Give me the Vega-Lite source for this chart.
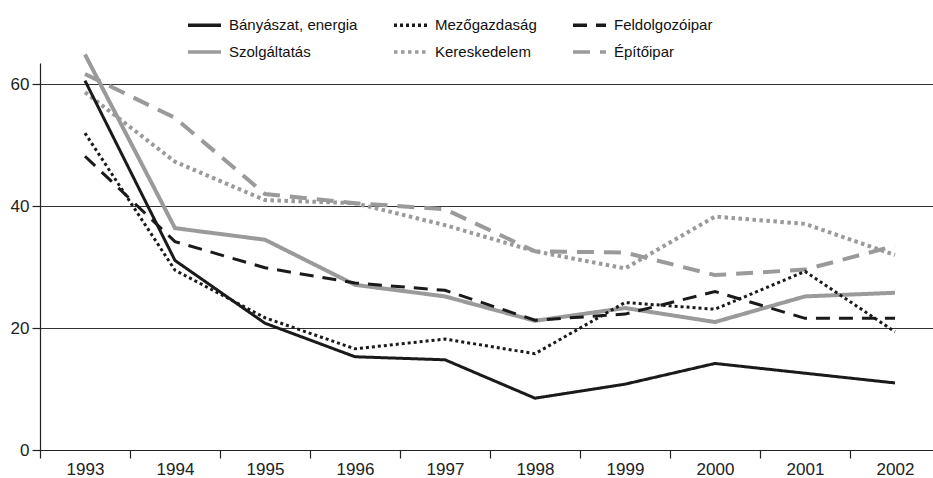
{
  "$schema": "https://vega.github.io/schema/vega-lite/v6.json",
  "width": 900,
  "height": 387,
  "autosize": {"type": "none"},
  "padding": {"left": 40, "top": 63, "right": 0, "bottom": 28},
  "background": "white",
  "data": {"values": [
    {"year": "1993", "series": "Bányászat, energia", "value": 60.6},
    {"year": "1994", "series": "Bányászat, energia", "value": 31.1},
    {"year": "1995", "series": "Bányászat, energia", "value": 20.8},
    {"year": "1996", "series": "Bányászat, energia", "value": 15.3},
    {"year": "1997", "series": "Bányászat, energia", "value": 14.8},
    {"year": "1998", "series": "Bányászat, energia", "value": 8.5},
    {"year": "1999", "series": "Bányászat, energia", "value": 10.8},
    {"year": "2000", "series": "Bányászat, energia", "value": 14.2},
    {"year": "2001", "series": "Bányászat, energia", "value": 12.6},
    {"year": "2002", "series": "Bányászat, energia", "value": 11.0},
    {"year": "1993", "series": "Mezőgazdaság", "value": 52.0},
    {"year": "1994", "series": "Mezőgazdaság", "value": 29.5},
    {"year": "1995", "series": "Mezőgazdaság", "value": 21.7},
    {"year": "1996", "series": "Mezőgazdaság", "value": 16.6},
    {"year": "1997", "series": "Mezőgazdaság", "value": 18.2},
    {"year": "1998", "series": "Mezőgazdaság", "value": 15.8},
    {"year": "1999", "series": "Mezőgazdaság", "value": 24.2},
    {"year": "2000", "series": "Mezőgazdaság", "value": 23.1},
    {"year": "2001", "series": "Mezőgazdaság", "value": 29.3},
    {"year": "2002", "series": "Mezőgazdaság", "value": 19.4},
    {"year": "1993", "series": "Feldolgozóipar", "value": 48.2},
    {"year": "1994", "series": "Feldolgozóipar", "value": 34.2},
    {"year": "1995", "series": "Feldolgozóipar", "value": 29.9},
    {"year": "1996", "series": "Feldolgozóipar", "value": 27.4},
    {"year": "1997", "series": "Feldolgozóipar", "value": 26.2},
    {"year": "1998", "series": "Feldolgozóipar", "value": 21.3},
    {"year": "1999", "series": "Feldolgozóipar", "value": 22.3},
    {"year": "2000", "series": "Feldolgozóipar", "value": 26.0},
    {"year": "2001", "series": "Feldolgozóipar", "value": 21.6},
    {"year": "2002", "series": "Feldolgozóipar", "value": 21.6},
    {"year": "1993", "series": "Szolgáltatás", "value": 64.9},
    {"year": "1994", "series": "Szolgáltatás", "value": 36.4},
    {"year": "1995", "series": "Szolgáltatás", "value": 34.5},
    {"year": "1996", "series": "Szolgáltatás", "value": 27.1},
    {"year": "1997", "series": "Szolgáltatás", "value": 25.2},
    {"year": "1998", "series": "Szolgáltatás", "value": 21.2},
    {"year": "1999", "series": "Szolgáltatás", "value": 23.3},
    {"year": "2000", "series": "Szolgáltatás", "value": 21.0},
    {"year": "2001", "series": "Szolgáltatás", "value": 25.2},
    {"year": "2002", "series": "Szolgáltatás", "value": 25.8},
    {"year": "1993", "series": "Kereskedelem", "value": 58.7},
    {"year": "1994", "series": "Kereskedelem", "value": 47.3},
    {"year": "1995", "series": "Kereskedelem", "value": 41.0},
    {"year": "1996", "series": "Kereskedelem", "value": 40.5},
    {"year": "1997", "series": "Kereskedelem", "value": 36.9},
    {"year": "1998", "series": "Kereskedelem", "value": 32.6},
    {"year": "1999", "series": "Kereskedelem", "value": 29.8},
    {"year": "2000", "series": "Kereskedelem", "value": 38.3},
    {"year": "2001", "series": "Kereskedelem", "value": 37.1},
    {"year": "2002", "series": "Kereskedelem", "value": 32.0},
    {"year": "1993", "series": "Építőipar", "value": 61.7},
    {"year": "1994", "series": "Építőipar", "value": 54.5},
    {"year": "1995", "series": "Építőipar", "value": 42.0},
    {"year": "1996", "series": "Építőipar", "value": 40.5},
    {"year": "1997", "series": "Építőipar", "value": 39.5},
    {"year": "1998", "series": "Építőipar", "value": 32.6},
    {"year": "1999", "series": "Építőipar", "value": 32.4},
    {"year": "2000", "series": "Építőipar", "value": 28.7},
    {"year": "2001", "series": "Építőipar", "value": 29.6},
    {"year": "2002", "series": "Építőipar", "value": 33.5}
  ]},
  "encoding": {
    "x": {
      "field": "year", "type": "ordinal",
      "scale": {"type": "band", "paddingInner": 0, "paddingOuter": 0},
      "axis": {
        "title": null, "labelAngle": 0, "tickBand": "extent",
        "domainColor": "#222", "domainWidth": 1.2, "tickColor": "#222", "tickWidth": 1.2,
        "tickSize": 8, "labelPadding": 3, "labelFont": "Liberation Sans", "labelFontSize": 17,
        "labelColor": "#222", "grid": false
      }
    },
    "y": {
      "field": "value", "type": "quantitative",
      "scale": {"domain": [0, 63.5], "nice": false, "zero": true},
      "axis": {
        "title": null, "values": [0, 20, 40, 60],
        "domainColor": "#222", "domainWidth": 1.2, "tickColor": "#222", "tickWidth": 1.2,
        "tickSize": 8, "labelPadding": 3, "labelFont": "Liberation Sans", "labelFontSize": 17,
        "labelColor": "#222", "grid": true, "gridColor": "#333", "gridWidth": 1.2
      }
    },
    "color": {
      "field": "series", "type": "nominal",
      "scale": {
        "domain": ["Bányászat, energia", "Szolgáltatás", "Mezőgazdaság", "Kereskedelem", "Feldolgozóipar", "Építőipar"],
        "range": ["#1a1a1a", "#9a9a9a", "#1a1a1a", "#9a9a9a", "#1a1a1a", "#9a9a9a"]
      },
      "legend": {
        "title": null, "orient": "none", "legendX": 146, "legendY": -56.5, "columns": 3,
        "symbolType": "stroke", "symbolSize": 1089, "symbolStrokeWidth": 3.5,
        "labelFont": "Liberation Sans", "labelFontSize": 15, "labelColor": "#111",
        "labelOffset": 6, "columnPadding": 29, "rowPadding": -7, "padding": 0
      }
    },
    "strokeDash": {
      "field": "series", "type": "nominal",
      "scale": {
        "domain": ["Bányászat, energia", "Szolgáltatás", "Mezőgazdaság", "Kereskedelem", "Feldolgozóipar", "Építőipar"],
        "range": [[1, 0], [1, 0], [3, 3], [3.5, 3.5], [14, 9], [17, 10]]
      },
      "legend": {
        "title": null, "orient": "none", "legendX": 146, "legendY": -56.5, "columns": 3,
        "symbolType": "stroke", "symbolSize": 1089, "symbolStrokeWidth": 3.5,
        "labelFont": "Liberation Sans", "labelFontSize": 15, "labelColor": "#111",
        "labelOffset": 6, "columnPadding": 29, "rowPadding": -7, "padding": 0
      }
    }
  },
  "layer": [
    {
      "transform": [{"filter": "indexof(['Szolgáltatás','Kereskedelem','Építőipar'], datum.series) >= 0"}],
      "mark": {"type": "line", "strokeWidth": 4, "strokeCap": "butt", "strokeJoin": "miter"}
    },
    {
      "transform": [{"filter": "indexof(['Szolgáltatás','Kereskedelem','Építőipar'], datum.series) < 0"}],
      "mark": {"type": "line", "strokeWidth": 3, "strokeCap": "butt", "strokeJoin": "miter"}
    }
  ],
  "config": {"view": {"stroke": null}}
}
